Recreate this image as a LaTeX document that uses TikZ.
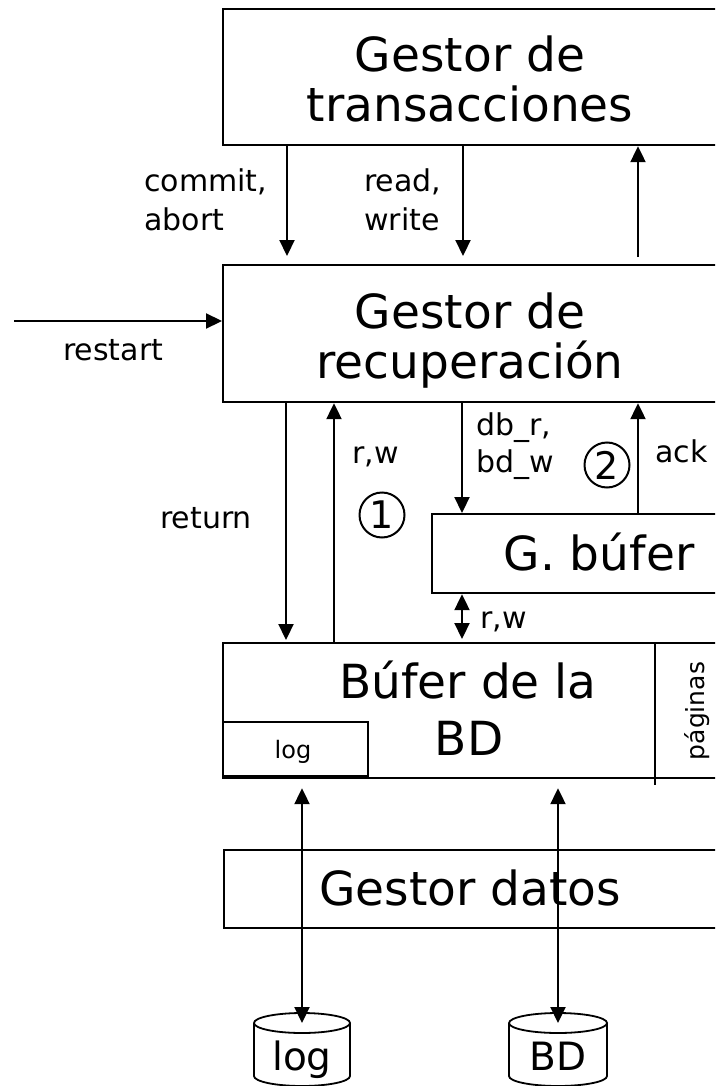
\documentclass[tikz,border=0pt]{standalone}
\usepackage{fontspec}
\setmainfont{DejaVu Sans}
\usetikzlibrary{arrows.meta}
\begin{document}
\begin{tikzpicture}[x=1pt,y=-1pt,
  box/.style={draw,line width=2.2pt,anchor=north west,inner sep=0},
  big/.style={font=\fontsize{47}{56}\selectfont,anchor=base,inner sep=0},
  lbl/.style={font=\fontsize{30}{36}\selectfont,anchor=base west,inner sep=0},
  arr/.style={line width=2.2pt,-{Triangle[length=16pt,width=15pt]}},
  darr/.style={line width=2.2pt,{Triangle[length=16pt,width=15pt]}-{Triangle[length=16pt,width=15pt]}},
  num/.style={circle,draw,line width=2pt,minimum size=45pt,inner sep=0,font=\fontsize{38}{44}\selectfont}]
\useasboundingbox (0,0) rectangle (715,1086);
\clip (0,0) rectangle (715,1086);

% component boxes (they run past the right margin)
\node[box,minimum width=560,minimum height=136] (tm) at (222,8) {};
\node[box,minimum width=560,minimum height=137] (rm) at (222,264) {};
\node[box,minimum width=340,minimum height=79] (gb) at (431,513) {};
\node[box,minimum width=560,minimum height=135] (bb) at (222,642) {};
\node[box,line width=1.8pt,minimum width=145,minimum height=54] (lb) at (222,721) {};
\node[box,minimum width=560,minimum height=78] (gd) at (223,849) {};

% separator of the page area
\coordinate (sepT) at (655,642);
\coordinate (sepB) at (655,785);
\draw[line width=2.2pt] (sepT) -- (sepB);

% box texts
\node[big] (t1) at (470,72) {Gestor de};
\node[big] (t2) at (470,122) {transacciones};
\node[big] (r1) at (470,328) {Gestor de};
\node[big] (r2) at (470,378) {recuperación};
\node[big] (g1) at (599,570) {G. búfer};
\node[big] (b1) at (468,698) {Búfer de la};
\node[big] (b2) at (469,755) {BD};
\node[big] (d1) at (470,905) {Gestor datos};
\node[font=\fontsize{24}{28}\selectfont,anchor=base,inner sep=0] (lt) at (293,758) {log};
\node[font=\fontsize{25}{30}\selectfont,rotate=90,inner sep=0] (pg) at (697,711) {páginas};

% disks
\coordinate (logtop) at (302,1023);
\coordinate (bdtop) at (558,1023);
\draw[line width=1.8pt] (254,1023) -- (254,1076) arc[start angle=180,end angle=360,x radius=48pt,y radius=10pt] -- (350,1023);
\draw[line width=1.8pt] (logtop) ellipse [x radius=48pt,y radius=10pt];
\draw[line width=1.8pt] (509,1023) -- (509,1076) arc[start angle=180,end angle=360,x radius=49pt,y radius=10pt] -- (607,1023);
\draw[line width=1.8pt] (bdtop) ellipse [x radius=49pt,y radius=10pt];
\node[font=\fontsize{39}{46}\selectfont,anchor=base,inner sep=0] (dl) at (302,1070) {log};
\node[font=\fontsize{39}{46}\selectfont,anchor=base,inner sep=0] (db) at (558,1070) {BD};

% connector columns
\coordinate (ca) at (287,0);
\coordinate (cb) at (463,0);
\coordinate (cc) at (638,0);
\coordinate (cd) at (286,0);
\coordinate (ce) at (334,0);
\coordinate (cf) at (462,0);
\coordinate (cg) at (302,0);
\coordinate (ch) at (558,0);
\coordinate (rs) at (14,321);

% transaction manager <-> recovery manager
\draw[arr,shorten >=8pt] (tm.south -| ca) -- (rm.north -| ca);
\draw[arr,shorten >=8pt] (tm.south -| cb) -- (rm.north -| cb);
\draw[arr,shorten <=7pt] (rm.north -| cc) -- (tm.south -| cc);
\draw[arr] (rs) -- (rs -| rm.west);

% recovery manager <-> buffers
\draw[arr,shorten >=2pt] (rm.south -| cd) -- (bb.north -| cd);
\draw[arr] (bb.north -| ce) -- (rm.south -| ce);
\draw[arr] (rm.south -| cf) -- (gb.north -| cf);
\draw[arr] (gb.north -| cc) -- (rm.south -| cc);
\draw[darr,shorten >=3pt] (gb.south -| cf) -- (bb.north -| cf);

% buffer <-> disks
\draw[darr,shorten <=9pt] (bb.south -| cg) -- (logtop);
\draw[darr,shorten <=9pt] (bb.south -| ch) -- (bdtop);

% connector labels
\node[lbl] (l1) at (144,192) {commit,};
\node[lbl] (l2) at (144,230) {abort};
\node[lbl] (l3) at (364,192) {read,};
\node[lbl] (l4) at (364,230) {write};
\node[lbl] (l5) at (63,360) {restart};
\node[lbl] (l6) at (160,528) {return};
\node[lbl] (l7) at (352,463) {r,w};
\node[lbl] (l8) at (476,435) {db\_r,};
\node[lbl] (l9) at (476,472) {bd\_w};
\node[lbl] (l10) at (655,462) {ack};
\node[lbl] (l11) at (480,628) {r,w};
\node[num] (n1) at (382,515) {1};
\node[num] (n2) at (607,465) {2};
\end{tikzpicture}
\end{document}
